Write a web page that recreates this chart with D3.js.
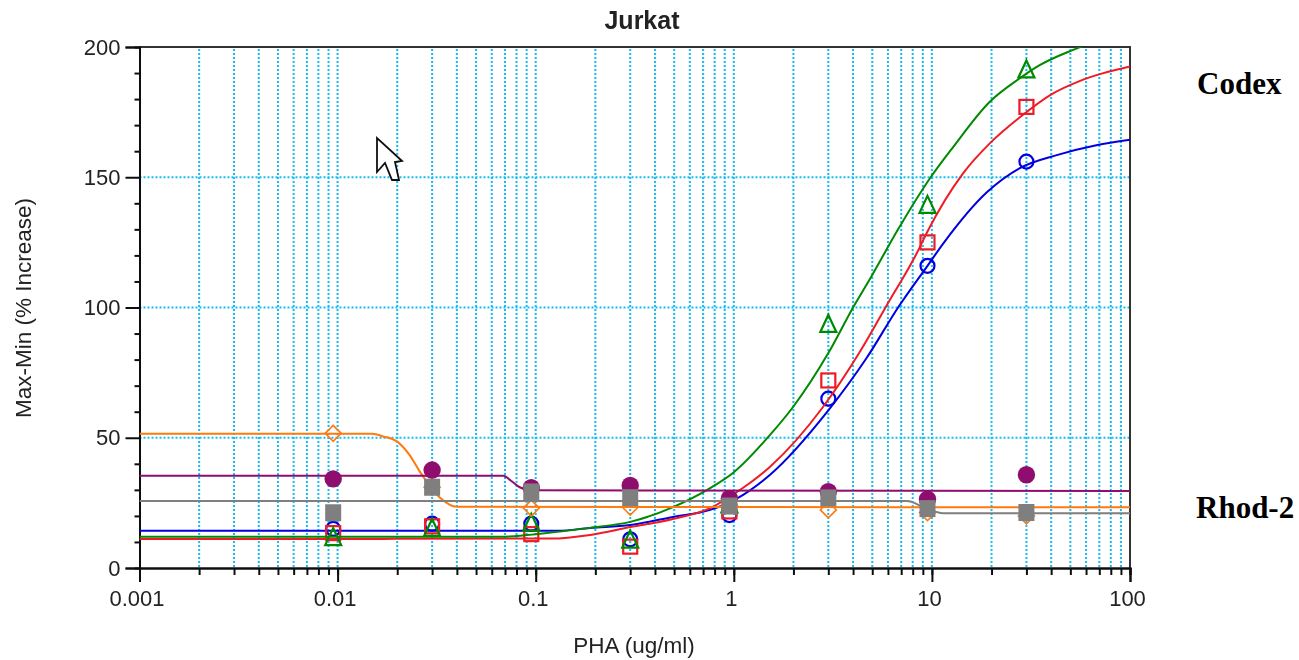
<!DOCTYPE html>
<html>
<head>
<meta charset="utf-8">
<script src="https://cdn.jsdelivr.net/npm/d3@7"></script>
<style>
    body { margin: 0; background: #fff; }
    text { font-family: "Liberation Sans", Arial, sans-serif; fill: #222; }
    .note { font-family: "Liberation Serif", "Times New Roman", serif; font-weight: bold; font-size: 31px; fill: #000; }
</style>
</head>
<body>
<svg id="chart" width="1299" height="660"></svg>
<script>
var doses = [0.0095, 0.03, 0.095, 0.3, 0.95, 3, 9.5, 30];

var blueValues   = [15, 17, 17, 11, 20.3, 65, 116, 156];
var redValues    = [13.4, 16, 13, 8.2, 21.7, 72, 125, 177];
var greenValues  = [11.5, 15, 17, 10.5, 24, 93.3, 139, 191];
var orangeValues = [51.7, 31, 23, 23.4, 24, 22.3, 21.3, 20];
var purpleValues = [34.2, 37.6, 30.8, 31.7, 26.7, 29.3, 26.4, 35.8];
var grayValues   = [21.2, 31, 29.2, 27, 23.8, 26.9, 22.8, 21.3];

// fitted curves, as [dose, response]
var blueCurve = [[0.001,14.3],[0.13,14.3],[0.188,15.4],[0.3,16.5],[0.493,19.6],[0.76,22.3],[1.11,28],[1.52,35.7],[3,60.5],[4.68,80.6],[6.75,100],[9.5,116],[11.4,124.5],[19,144.3],[27.8,153.5],[42.7,158.5],[67.6,162.3],[100,164.4]];
var redCurve = [[0.001,11.1],[0.12,11.3],[0.188,12.7],[0.3,15.7],[0.493,18.8],[0.76,23],[1.11,30.7],[1.52,38.8],[2.82,61.8],[4.33,83],[5.93,101],[8.41,121],[9.47,129],[14.4,151.6],[19.6,163],[27.8,173],[40.5,182],[56,187],[100,192.5]];
var greenCurve = [[0.001,12],[0.07,12],[0.1,13],[0.188,15.4],[0.3,17.7],[0.493,23.4],[0.76,30.7],[0.99,36.5],[1.52,51],[2,62],[3,82.5],[4,100],[5,112.5],[6.75,130],[9.8,149.7],[12.8,161.6],[19.6,179],[27.8,188],[35,193],[54,199.5],[70,203],[100,208]];
var orangeCurve = [[0.001,51.5],[0.0149,51.5],[0.017,50.5],[0.02,48.5],[0.023,43.5],[0.026,37],[0.0329,27],[0.04,23.5],[100,23.3]];
var purpleCurve = [[0.001,35.4],[0.0685,35.4],[0.075,33.5],[0.083,31],[0.095,29.8],[100,29.6]];
var grayCurve = [[0.001,25.7],[7.5,25.7],[9,23.5],[11.4,21],[100,21]];

var decadeLabels = [0.001, 0.01, 0.1, 1, 10, 100];
var yTickLabels = [0, 50, 100, 150, 200];
var yMinorTicks = [10, 20, 30, 40, 60, 70, 80, 90, 110, 120, 130, 140, 160, 170, 180, 190];

var seriesList = [
    {values: blueValues, curve: blueCurve, color: "#0000e0", marker: "circle"},
    {values: redValues, curve: redCurve, color: "#ee1c25", marker: "square"},
    {values: greenValues, curve: greenCurve, color: "#008a00", marker: "triangle"},
    {values: orangeValues, curve: orangeCurve, color: "#ff7a10", marker: "diamond"},
    {values: purpleValues, curve: purpleCurve, color: "#8e0a6e", marker: "dot"},
    {values: grayValues, curve: grayCurve, color: "#7f7f7f", marker: "block"}
];

var svg = d3.select("#chart");

var margin = {top: 47, left: 139.5, bottom: 92, right: 169},
    width = +svg.attr("width"),
    height = +svg.attr("height");

var x = d3.scaleLog()
    .domain([0.001, 100])
    .range([margin.left, width - margin.right]);

var y = d3.scaleLinear()
    .domain([0, 200])
    .range([height - margin.bottom, margin.top]);

svg.append("defs").append("clipPath")
    .attr("id", "plot-clip")
    .append("rect")
    .attr("x", margin.left)
    .attr("y", margin.top)
    .attr("width", x.range()[1] - x.range()[0])
    .attr("height", y.range()[0] - y.range()[1]);

// the reference is a scaled up screenshot, so everything is a bit soft
svg.select("defs").append("filter")
    .attr("id", "soft")
    .attr("filterUnits", "userSpaceOnUse")
    .attr("x", 0).attr("y", 0).attr("width", width).attr("height", height)
    .append("feGaussianBlur")
    .attr("stdDeviation", 0.6);

var chart = svg.append("g").attr("filter", "url(#soft)");

// grid
var gridColor = "#14bdf5";

chart.append("g").selectAll("line")
    .data(x.ticks().filter(function(d){ return d > 0.001 && d < 100 }))
    .enter().append("line")
    .attr("x1", function(d){ return x(d) })
    .attr("x2", function(d){ return x(d) })
    .attr("y1", y(200) + 2)
    .attr("y2", y(0))
    .attr("stroke", gridColor)
    .attr("stroke-width", 2)
    .attr("stroke-dasharray", "2 2");

chart.append("g").selectAll("line")
    .data(yTickLabels.slice(1, -1))
    .enter().append("line")
    .attr("x1", x.range()[0])
    .attr("x2", x.range()[1])
    .attr("y1", function(d){ return y(d) })
    .attr("y2", function(d){ return y(d) })
    .attr("stroke", gridColor)
    .attr("stroke-width", 2)
    .attr("stroke-dasharray", "2 2");

// frame
chart.append("path")
    .attr("d", `M${x.range()[0]},${y(200)}H${x.range()[1]}V${y(0)}`)
    .attr("fill", "none")
    .attr("stroke", "#333")
    .attr("stroke-width", 2);

// axes
function styleAxis(g) {
    g.selectAll("path, line").attr("stroke", "#111").attr("stroke-width", 2);
    g.selectAll("text").attr("fill", "#222").style("font-size", "22px").attr("font-family", null);
}

var xMinor = chart.append("g")
    .attr("transform", `translate(0,${y(0)})`)
    .call(d3.axisBottom(x).tickValues(x.ticks()).tickSize(7).tickFormat(""));
styleAxis(xMinor);

var xAxis = chart.append("g")
    .attr("transform", `translate(0,${y(0)})`)
    .call(d3.axisBottom(x).tickValues(decadeLabels).tickSize(14).tickPadding(8).tickFormat(function(d){ return String(d) }));
styleAxis(xAxis);
xAxis.selectAll("text").attr("dx", -3);

var yMinor = chart.append("g")
    .attr("transform", `translate(${margin.left},0)`)
    .call(d3.axisLeft(y).tickValues(yMinorTicks).tickSize(5).tickFormat(""));
styleAxis(yMinor);

var yAxis = chart.append("g")
    .attr("transform", `translate(${margin.left},0)`)
    .call(d3.axisLeft(y).tickValues(yTickLabels).tickSize(14).tickPadding(5).tickFormat(d3.format("d")));
styleAxis(yAxis);

// series
var line = d3.line()
    .x(function(d){ return x(d[0]) })
    .y(function(d){ return y(d[1]) })
    .curve(d3.curveMonotoneX);

function drawMarker(g, kind, color) {
    if (kind === "circle") {
        g.append("circle").attr("r", 7).attr("fill", "none").attr("stroke", color).attr("stroke-width", 2.2);
    } else if (kind === "square") {
        g.append("rect").attr("x", -7).attr("y", -7).attr("width", 14).attr("height", 14)
            .attr("fill", "none").attr("stroke", color).attr("stroke-width", 2.2);
    } else if (kind === "triangle") {
        g.append("path").attr("d", "M0,-10L8,7H-8Z").attr("fill", "none").attr("stroke", color).attr("stroke-width", 2.2);
    } else if (kind === "diamond") {
        g.append("path").attr("d", "M0,-8L8,0L0,8L-8,0Z").attr("fill", "none").attr("stroke", color).attr("stroke-width", 1.6);
    } else if (kind === "dot") {
        g.append("circle").attr("r", 8.7).attr("fill", color);
    } else {
        g.append("rect").attr("x", -8).attr("y", -8.5).attr("width", 16).attr("height", 17).attr("fill", color);
    }
}

seriesList.forEach(function(s) {
    var layer = chart.append("g").attr("class", "layer");

    layer.append("path")
        .datum(s.curve)
        .attr("clip-path", "url(#plot-clip)")
        .attr("d", line)
        .attr("fill", "none")
        .attr("stroke", s.color)
        .attr("stroke-width", 2);

    layer.selectAll("g.marker")
        .data(s.values)
        .enter().append("g")
        .attr("class", "marker")
        .attr("transform", function(d, i){ return `translate(${x(doses[i])},${y(d)})` })
        .each(function() { drawMarker(d3.select(this), s.marker, s.color) });
});

// mouse pointer caught in the screenshot
chart.append("path")
    .attr("transform", "translate(377,138)")
    .attr("d", "M0,0V34L8,25L15,42L22,42L18,24L25,23Z")
    .attr("fill", "#fff")
    .attr("stroke", "#111")
    .attr("stroke-width", 1.8)
    .attr("stroke-linejoin", "miter");

// titles
chart.append("text")
    .attr("x", 642).attr("y", 29)
    .attr("text-anchor", "middle")
    .style("font-size", "25px").style("font-weight", "bold")
    .text("Jurkat");

chart.append("text")
    .attr("x", 634).attr("y", 653)
    .attr("text-anchor", "middle")
    .style("font-size", "22.5px")
    .text("PHA (ug/ml)");

chart.append("text")
    .attr("transform", "translate(31,308) rotate(-90)")
    .attr("text-anchor", "middle")
    .style("font-size", "22.5px")
    .text("Max-Min (% Increase)");

svg.append("text").attr("class", "note")
    .attr("x", 1197).attr("y", 94)
    .text("Codex");

svg.append("text").attr("class", "note")
    .attr("x", 1196).attr("y", 518)
    .text("Rhod-2");
</script>
</body>
</html>
